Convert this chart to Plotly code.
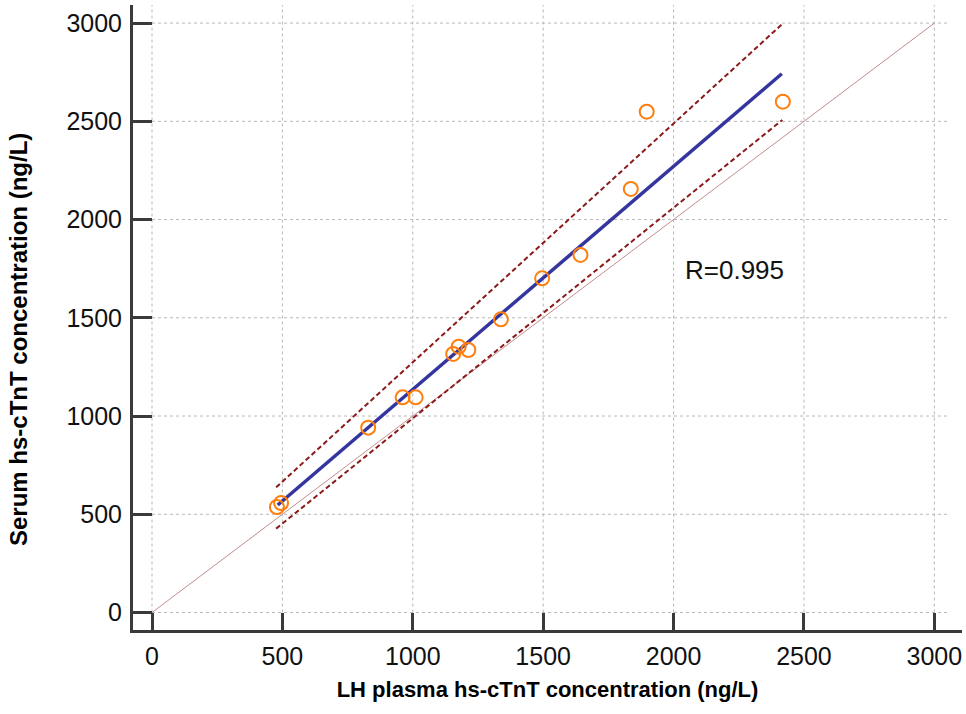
import plotly.graph_objects as go

# Data
lh_plasma = [479, 495, 829, 961, 1011, 1155, 1176, 1213, 1338, 1496, 1643, 1836, 1897, 2419]
serum = [537, 557, 941, 1095, 1095, 1316, 1353, 1336, 1492, 1701, 1820, 2156, 2549, 2600]

fit_x = [482, 2415]
fit_y = [547, 2742]
upper_x = [476, 2419]
upper_y = [637, 2998]
lower_x = [476, 2417]
lower_y = [427, 2507]
identity = [0, 3000]

tick_vals = [0, 500, 1000, 1500, 2000, 2500, 3000]
tick_text = ["0", "500", "1000", "1500", "2000", "2500", "3000"]

x_range = [-72.9, 3106]
y_range = [-89, 3092]
grid_x_end = 3060
grid_y_end = 3092

FONT = "Arial, Liberation Sans, sans-serif"

fig = go.Figure()

# identity line
fig.add_trace(go.Scatter(x=identity, y=identity, mode="lines",
                         line=dict(color="#c48c8c", width=1), hoverinfo="skip"))
# prediction bands
fig.add_trace(go.Scatter(x=upper_x, y=upper_y, mode="lines",
                         line=dict(color="#8b1a1a", width=2, dash="5px,3px"), hoverinfo="skip"))
fig.add_trace(go.Scatter(x=lower_x, y=lower_y, mode="lines",
                         line=dict(color="#8b1a1a", width=2, dash="5px,3px"), hoverinfo="skip"))
# regression line
fig.add_trace(go.Scatter(x=fit_x, y=fit_y, mode="lines",
                         line=dict(color="#3535a0", width=3.5), hoverinfo="skip"))
# points
fig.add_trace(go.Scatter(x=lh_plasma, y=serum, mode="markers",
                         marker=dict(symbol="circle-open", size=14, color="#ff7f0e",
                                     line=dict(width=2, color="#ff7f0e"))))

# dotted grid lines drawn from 0 outward
shapes = []
for v in tick_vals:
    shapes.append(dict(type="line", xref="x", yref="y", x0=v, x1=v, y0=0, y1=grid_y_end,
                       line=dict(color="#b8b8b8", width=1, dash="dot"), layer="below"))
    shapes.append(dict(type="line", xref="x", yref="y", x0=0, x1=grid_x_end, y0=v, y1=v,
                       line=dict(color="#b8b8b8", width=1, dash="dot"), layer="below"))
fig.update_layout(shapes=shapes)

fig.add_annotation(x=2036, y=1743, text="R=0.995", showarrow=False, xanchor="left",
                   yanchor="middle", font=dict(family=FONT, size=26, color="#111"))

# y-axis title as a rotated annotation to match position
fig.add_annotation(xref="paper", yref="paper", x=-0.1387, y=0.464,
                   text="<b>Serum hs-cTnT concentration (ng/L)</b>", textangle=-90,
                   showarrow=False, xanchor="center", yanchor="middle",
                   font=dict(size=24, family=FONT, color="#000"))

fig.update_layout(
    width=966, height=714,
    margin=dict(l=133, r=4, t=5, b=84),
    plot_bgcolor="white", paper_bgcolor="white",
    showlegend=False,
    font=dict(family=FONT, color="#111"),
    xaxis=dict(range=x_range, tickvals=tick_vals, ticktext=tick_text, showgrid=False,
               zeroline=False, showline=True, linecolor="#3a3a3a", linewidth=3,
               ticks="inside", ticklen=17, tickwidth=2.5, tickcolor="#3a3a3a",
               tickfont=dict(size=25, family=FONT, color="#111"), ticklabelstandoff=2,
               title=dict(text="<b>LH plasma hs-cTnT concentration (ng/L)</b>",
                          font=dict(size=22, family=FONT, color="#000"), standoff=13)),
    yaxis=dict(range=y_range, tickvals=tick_vals, ticktext=tick_text, showgrid=False,
               zeroline=False, showline=True, linecolor="#3a3a3a", linewidth=3,
               ticks="inside", ticklen=19, tickwidth=2.5, tickcolor="#3a3a3a",
               tickfont=dict(size=25, family=FONT, color="#111"), ticklabelstandoff=3),
)

fig.write_html("out.html")
